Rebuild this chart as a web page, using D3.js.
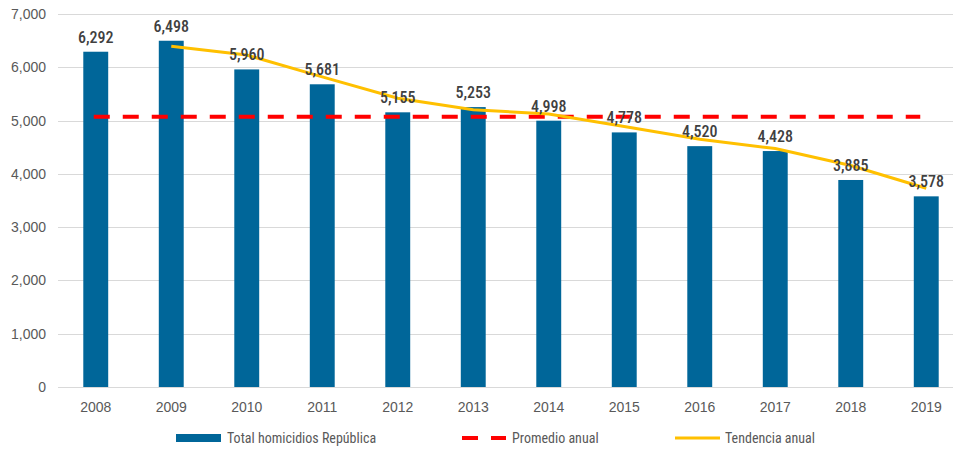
<!doctype html>
<html lang="es">
<head>
<meta charset="utf-8" />
<title>Homicidios República 2008-2019</title>
<style>
  html, body { margin: 0; padding: 0; background: #fff; overflow: hidden; }
  svg { display: block; font-family: "Liberation Sans Narrow", "Arial Narrow", "Roboto Condensed", "Liberation Sans", sans-serif; }
  .grid line { stroke: #d9d9d9; stroke-width: 1; }
  .tick text { fill: #595959; font-size: 14px; }
  .val { fill: #404040; font-size: 16px; font-weight: 500; text-anchor: middle; }
  .leg { fill: #595959; font-size: 14px; }
</style>
</head>
<body>
<svg id="chart" width="953" height="449"></svg>
<script src="https://cdn.jsdelivr.net/npm/d3@7/dist/d3.min.js"></script>
<script>
// values
const years = ['2008', '2009', '2010', '2011', '2012', '2013', '2014', '2015', '2016', '2017', '2018', '2019'];
const homicidios = [6292, 6498, 5960, 5681, 5155, 5253, 4998, 4778, 4520, 4428, 3885, 3578];
const promedio = 5070;
const tendYears = ['2009', '2010', '2011', '2012', '2013', '2014', '2015', '2016', '2017', '2018', '2019'];
const tendencia = [6395, 6229, 5820, 5418, 5204, 5125, 4888, 4649, 4474, 4156, 3731];
const yTicks = [0, 1000, 2000, 3000, 4000, 5000, 6000, 7000];

const svg = d3.select('#chart');
// plot runs a little past the right edge, like the original crop
const x = d3.scaleBand().domain(years).range([58, 964]).paddingInner(0.67).paddingOuter(0.335);
const y = d3.scaleLinear().domain([0, 7000]).range([387, 14]);
const fmt = d3.format(',');

// gridlines
svg.append('g').attr('class', 'grid')
  .selectAll('line').data(yTicks).join('line')
  .attr('x1', 58).attr('x2', 964)
  .attr('y1', d => Math.round(y(d)) + 0.5).attr('y2', d => Math.round(y(d)) + 0.5);

// y axis labels
const yAxis = svg.append('g').attr('transform', 'translate(46,0)')
  .call(d3.axisLeft(y).tickValues(yTicks).tickSize(0).tickPadding(0).tickFormat(fmt));
yAxis.select('.domain').remove();

// x axis labels
const xAxis = svg.append('g').attr('transform', 'translate(0,396)')
  .call(d3.axisBottom(x).tickSize(0).tickPadding(6));
xAxis.select('.domain').remove();

// bars
svg.append('g').selectAll('rect').data(years).join('rect')
  .attr('x', (d) => x(d)).attr('width', x.bandwidth())
  .attr('y', (d, i) => y(homicidios[i])).attr('height', (d, i) => y(0) - y(homicidios[i]))
  .attr('fill', '#006699');

const cx = d => x(d) + x.bandwidth() / 2;

// average line
svg.append('line')
  .attr('x1', cx(years[0]) - 2).attr('x2', cx(years[years.length - 1]) - 6)
  .attr('y1', y(promedio)).attr('y2', y(promedio))
  .attr('stroke', '#ff0000').attr('stroke-width', 4)
  .attr('stroke-dasharray', '16,13');

// trend line
svg.append('path').datum(tendencia)
  .attr('fill', 'none').attr('stroke', '#ffc000').attr('stroke-width', 3)
  .attr('d', d3.line().x((d, i) => cx(tendYears[i])).y(d => y(d)));

// value labels
svg.append('g').selectAll('text').data(years).join('text')
  .attr('class', 'val')
  .attr('x', cx).attr('y', (d, i) => y(homicidios[i]) - 9)
  .text((d, i) => fmt(homicidios[i]));

// legend
const leg = svg.append('g');
leg.append('rect').attr('x', 176).attr('y', 434).attr('width', 45).attr('height', 8).attr('fill', '#006699');
leg.append('text').attr('class', 'leg').attr('x', 227).attr('y', 443).text('Total homicidios República');
leg.append('line').attr('x1', 462).attr('x2', 506).attr('y1', 438).attr('y2', 438)
  .attr('stroke', '#ff0000').attr('stroke-width', 4).attr('stroke-dasharray', '16,13');
leg.append('text').attr('class', 'leg').attr('x', 512).attr('y', 443).text('Promedio anual');
leg.append('line').attr('x1', 675).attr('x2', 720).attr('y1', 438).attr('y2', 438)
  .attr('stroke', '#ffc000').attr('stroke-width', 3);
leg.append('text').attr('class', 'leg').attr('x', 725).attr('y', 443).text('Tendencia anual');
</script>
</body>
</html>
